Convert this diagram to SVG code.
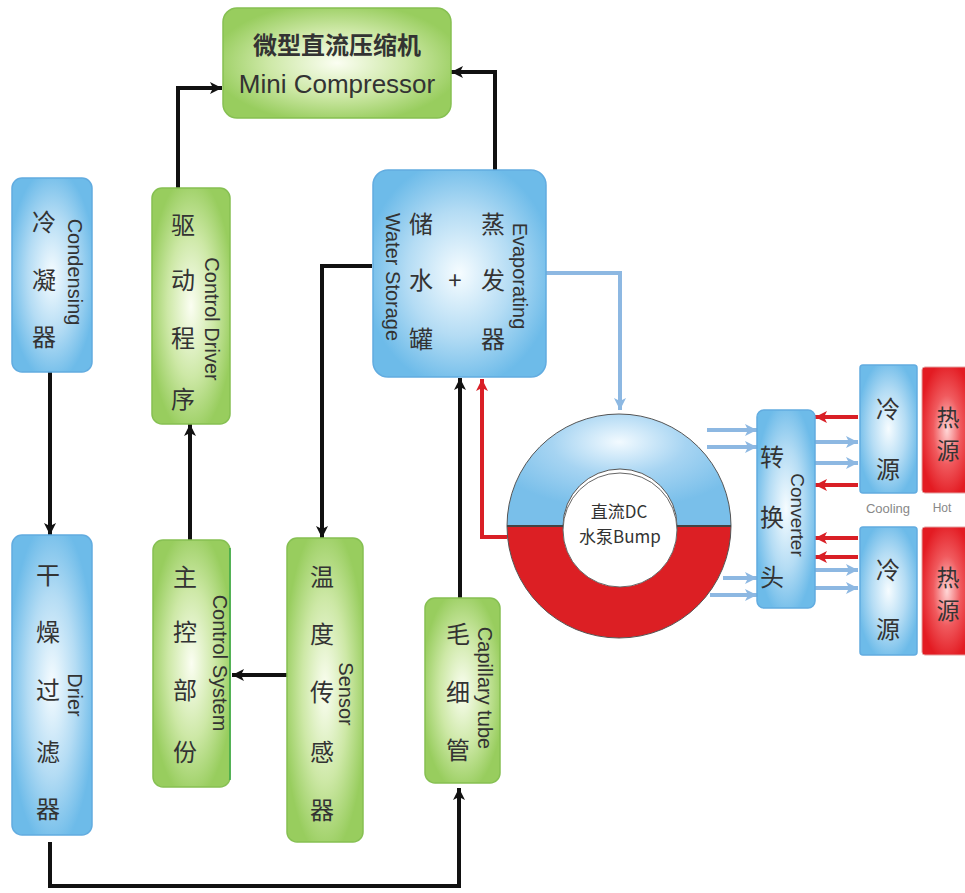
<svg xmlns="http://www.w3.org/2000/svg" width="965" height="893" viewBox="0 0 965 893">
<style>
.zh{font-family:"Noto Sans CJK SC","Noto Sans",sans-serif;font-size:24px;fill:#333;text-anchor:middle;dominant-baseline:central}
.en{font-family:"Liberation Sans",Arial,sans-serif;font-size:20px;fill:#333;text-anchor:middle;dominant-baseline:central}
.blue{fill:url(#gBlue);stroke:#62ace0;stroke-width:1.5}
.green{fill:url(#gGreen);stroke:#86c052;stroke-width:1.5}
.hot{fill:url(#gHot);stroke:#e3a0a0;stroke-width:1}
.blk{fill:none;stroke:#111;stroke-width:4}
.bl{fill:none;stroke:#8db8e2;stroke-width:4}
.rd{fill:none;stroke:#d91f26;stroke-width:4}
</style>
<defs>
<radialGradient id="gBlue" cx="50%" cy="50%" r="55%">
<stop offset="0" stop-color="#f6fcff"/>
<stop offset="0.55" stop-color="#b4dcf4"/>
<stop offset="1" stop-color="#6dbbe9"/>
</radialGradient>
<radialGradient id="gGreen" cx="50%" cy="50%" r="55%">
<stop offset="0" stop-color="#fbfef2"/>
<stop offset="0.55" stop-color="#cde8a6"/>
<stop offset="1" stop-color="#98cd5e"/>
</radialGradient>
<radialGradient id="gHot" cx="50%" cy="50%" r="55%">
<stop offset="0" stop-color="#ffd6d6"/>
<stop offset="0.5" stop-color="#f05a5e"/>
<stop offset="1" stop-color="#e31b22"/>
</radialGradient>
<radialGradient id="gRing" cx="50%" cy="25%" r="60%">
<stop offset="0" stop-color="#f2faff"/>
<stop offset="0.5" stop-color="#a6d4f2"/>
<stop offset="1" stop-color="#79bfea"/>
</radialGradient>
<marker id="aB" markerUnits="userSpaceOnUse" markerWidth="14" markerHeight="14" refX="12" refY="7" orient="auto">
<path d="M0,1 L12,7 L0,13 L3,7 z" fill="#111"/>
</marker>
<marker id="aR" markerUnits="userSpaceOnUse" markerWidth="14" markerHeight="14" refX="12" refY="7" orient="auto">
<path d="M0,1 L12,7 L0,13 L3,7 z" fill="#d91f26"/>
</marker>
<marker id="aL" markerUnits="userSpaceOnUse" markerWidth="14" markerHeight="14" refX="12" refY="7" orient="auto">
<path d="M0,1 L12,7 L0,13 L3,7 z" fill="#8db8e2"/>
</marker>
</defs>

<g id="connectors">
<path class="blk" d="M178,188 V88 H222" marker-end="url(#aB)"/>
<path class="blk" d="M495,170 V72 H451" marker-end="url(#aB)"/>
<path class="blk" d="M50,372 V535" marker-end="url(#aB)"/>
<path class="blk" d="M190,540 V424" marker-end="url(#aB)"/>
<path class="blk" d="M287,675 H232" marker-end="url(#aB)"/>
<path class="blk" d="M372,266 H322 V538" marker-end="url(#aB)"/>
<path class="blk" d="M460,598 V378" marker-end="url(#aB)"/>
<path class="blk" d="M50,842 V886 H459 V788" marker-end="url(#aB)"/>
<path class="rd" d="M507,537 H482 V379" marker-end="url(#aR)"/>
<path class="bl" d="M546,273 H620 V410" marker-end="url(#aL)"/>
<path class="bl" d="M707,430 H757" marker-end="url(#aL)"/>
<path class="bl" d="M707,447 H757" marker-end="url(#aL)"/>
<path class="bl" d="M723,578 H757" marker-end="url(#aL)"/>
<path class="bl" d="M710,595 H757" marker-end="url(#aL)"/>
<path class="rd" d="M858,417 H815" marker-end="url(#aR)"/>
<path class="rd" d="M858,485 H815" marker-end="url(#aR)"/>
<path class="rd" d="M858,538 H815" marker-end="url(#aR)"/>
<path class="rd" d="M858,557 H815" marker-end="url(#aR)"/>
<path class="bl" d="M815,442 H858" marker-end="url(#aL)"/>
<path class="bl" d="M815,463 H858" marker-end="url(#aL)"/>
<path class="bl" d="M815,570 H858" marker-end="url(#aL)"/>
<path class="bl" d="M815,588 H858" marker-end="url(#aL)"/>
</g>

<g id="compressor">
<rect class="green" x="223" y="8" width="228" height="110" rx="14"/>
<text class="zh" x="337" y="43" style="font-size:24px;font-weight:bold">微型直流压缩机</text>
<text class="en" x="337" y="84" style="font-size:26px">Mini Compressor</text>
</g>

<g id="condensing">
<rect class="blue" x="12" y="178" width="80" height="194" rx="10"/>
<text class="zh" x="44" y="220">冷</text>
<text class="zh" x="44" y="278">凝</text>
<text class="zh" x="44" y="335">器</text>
<text class="en" transform="translate(75,272) rotate(90)" x="0" y="0">Condensing</text>
</g>

<g id="driver">
<rect class="green" x="152" y="188" width="78" height="236" rx="10"/>
<text class="zh" x="183" y="223">驱</text>
<text class="zh" x="183" y="278">动</text>
<text class="zh" x="183" y="336">程</text>
<text class="zh" x="183" y="397">序</text>
<text class="en" transform="translate(212,319) rotate(90)" x="0" y="0">Control Driver</text>
</g>

<g id="storage">
<rect class="blue" x="373" y="170" width="173" height="207" rx="15"/>
<text class="zh" x="421" y="222">储</text>
<text class="zh" x="421" y="278">水</text>
<text class="zh" x="421" y="337">罐</text>
<text class="zh" x="455" y="278">+</text>
<text class="zh" x="493" y="222">蒸</text>
<text class="zh" x="493" y="278">发</text>
<text class="zh" x="493" y="337">器</text>
<text class="en" transform="translate(393,277) rotate(90)" x="0" y="0">Water Storage</text>
<text class="en" transform="translate(520,276) rotate(90)" x="0" y="0">Evaporating</text>
</g>

<g id="drier">
<rect class="blue" x="12" y="535" width="80" height="300" rx="10"/>
<text class="zh" x="48" y="573">干</text>
<text class="zh" x="48" y="630">燥</text>
<text class="zh" x="48" y="688">过</text>
<text class="zh" x="48" y="750">滤</text>
<text class="zh" x="48" y="807">器</text>
<text class="en" transform="translate(75,695) rotate(90)" x="0" y="0">Drier</text>
</g>

<g id="control">
<rect class="green" x="153" y="540" width="77" height="247" rx="10"/>
<line x1="230" y1="548" x2="230" y2="780" stroke="#3aa84a" stroke-width="1.5"/>
<text class="zh" x="185" y="575">主</text>
<text class="zh" x="185" y="630">控</text>
<text class="zh" x="185" y="688">部</text>
<text class="zh" x="185" y="750">份</text>
<text class="en" transform="translate(220,663) rotate(90)" x="0" y="0">Control System</text>
</g>

<g id="sensor">
<rect class="green" x="287" y="538" width="76" height="304" rx="10"/>
<text class="zh" x="322" y="575">温</text>
<text class="zh" x="322" y="632">度</text>
<text class="zh" x="322" y="690">传</text>
<text class="zh" x="322" y="750">感</text>
<text class="zh" x="322" y="808">器</text>
<text class="en" transform="translate(346,694) rotate(90)" x="0" y="0">Sensor</text>
</g>

<g id="capillary">
<rect class="green" x="425" y="598" width="75" height="185" rx="10"/>
<text class="zh" x="458" y="632">毛</text>
<text class="zh" x="458" y="690">细</text>
<text class="zh" x="458" y="748">管</text>
<text class="en" transform="translate(485,688) rotate(90)" x="0" y="0">Capillary tube</text>
</g>

<g id="pump">
<path d="M507,526 A112,112 0 0 1 731,526 L677,526 A57,57 0 0 0 563,526 Z" fill="url(#gRing)" stroke="#555" stroke-width="1"/>
<path d="M507,526 A112,112 0 0 0 731,526 L677,526 A57,57 0 0 1 563,526 Z" fill="#dc1f24" stroke="#555" stroke-width="1"/>
<circle cx="620" cy="530" r="57" fill="#fff" stroke="#666" stroke-width="1"/>
<line x1="507" y1="526" x2="563" y2="526" stroke="#444" stroke-width="2"/>
<line x1="677" y1="526" x2="731" y2="526" stroke="#444" stroke-width="2"/>
<text class="zh" x="619" y="510" style="font-size:17px">直流DC</text>
<text class="zh" x="620" y="535" style="font-size:17px">水泵Bump</text>
</g>

<g id="converter">
<rect class="blue" x="757" y="410" width="58" height="198" rx="7"/>
<text class="zh" x="772" y="455">转</text>
<text class="zh" x="772" y="515">换</text>
<text class="zh" x="772" y="575">头</text>
<text class="en" transform="translate(797,515) rotate(90)" x="0" y="0" style="font-size:19px">Converter</text>
</g>

<g id="cold1">
<rect class="blue" x="860" y="365" width="57" height="128" rx="3"/>
<text class="zh" x="888" y="407">冷</text>
<text class="zh" x="888" y="467">源</text>
</g>
<g id="hot1">
<rect class="hot" x="922" y="367" width="50" height="126" rx="3"/>
<text class="zh" x="948" y="416" style="font-size:23px">热</text>
<text class="zh" x="948" y="449" style="font-size:23px">源</text>
</g>
<g id="cold2">
<rect class="blue" x="860" y="527" width="57" height="128" rx="3"/>
<text class="zh" x="888" y="568">冷</text>
<text class="zh" x="888" y="627">源</text>
</g>
<g id="hot2">
<rect class="hot" x="922" y="527" width="50" height="128" rx="3"/>
<text class="zh" x="948" y="576" style="font-size:23px">热</text>
<text class="zh" x="948" y="609" style="font-size:23px">源</text>
</g>
<g id="labels">
<text class="en" x="888" y="508" style="font-size:13px;fill:#888">Cooling</text>
<text class="en" x="942" y="508" style="font-size:12px;fill:#888">Hot</text>
</g>
</svg>
